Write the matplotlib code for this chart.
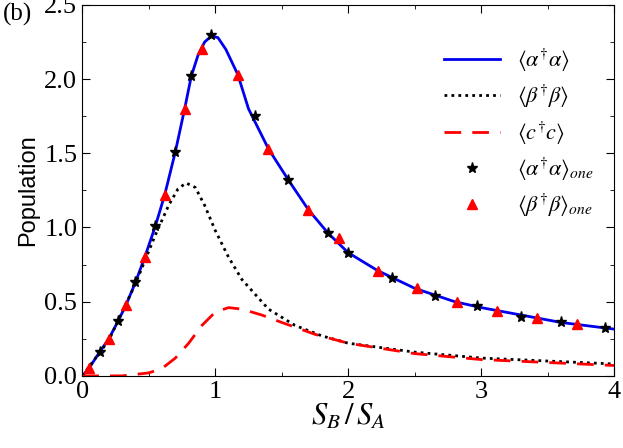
import numpy as np
import matplotlib
matplotlib.use("Agg")
import matplotlib.pyplot as plt
from matplotlib.ticker import MultipleLocator

x_a = [0, 0.05, 0.13, 0.2, 0.27, 0.33, 0.4, 0.47, 0.55, 0.62, 0.7, 0.77, 0.82, 0.87, 0.92, 0.97, 1.02, 1.08, 1.17, 1.25, 1.4, 1.55, 1.7, 1.85, 2.0, 2.22, 2.5, 2.8, 3.0, 3.3, 3.6, 4.0]
y_a = [0, 0.05, 0.16, 0.25, 0.37, 0.48, 0.63, 0.8, 1.01, 1.22, 1.51, 1.8, 2.02, 2.16, 2.25, 2.29, 2.28, 2.2, 2.03, 1.8, 1.53, 1.32, 1.12, 0.96, 0.83, 0.71, 0.59, 0.5, 0.46, 0.41, 0.36, 0.315]
x_b = [0, 0.2, 0.4, 0.55, 0.65, 0.72, 0.78, 0.85, 0.92, 1.0, 1.1, 1.2, 1.4, 1.6, 1.8, 2.0, 2.5, 3.0, 3.5, 4.0]
y_b = [0, 0.24, 0.62, 0.95, 1.15, 1.26, 1.3, 1.27, 1.15, 0.98, 0.8, 0.65, 0.45, 0.34, 0.27, 0.22, 0.16, 0.12, 0.1, 0.08]
x_c = [0, 0.3, 0.5, 0.6, 0.7, 0.8, 0.9, 1.0, 1.1, 1.2, 1.35, 1.5, 1.75, 2.0, 2.5, 3.0, 3.5, 4.0]
y_c = [0, 0.0, 0.02, 0.05, 0.12, 0.22, 0.34, 0.43, 0.46, 0.45, 0.41, 0.36, 0.28, 0.22, 0.15, 0.11, 0.09, 0.07]
x_star = [0.13, 0.27, 0.4, 0.55, 0.7, 0.82, 0.97, 1.3, 1.55, 1.85, 2.0, 2.33, 2.65, 2.97, 3.3, 3.6, 3.93]
y_star = [0.16, 0.37, 0.63, 1.01, 1.51, 2.02, 2.3, 1.75, 1.32, 0.96, 0.83, 0.66, 0.54, 0.47, 0.40, 0.36, 0.32]
x_tri = [0.05, 0.2, 0.33, 0.47, 0.62, 0.77, 0.9, 1.17, 1.4, 1.7, 1.93, 2.22, 2.52, 2.82, 3.12, 3.42, 3.72]
y_tri = [0.05, 0.25, 0.48, 0.8, 1.22, 1.8, 2.2, 2.03, 1.53, 1.12, 0.93, 0.71, 0.59, 0.50, 0.44, 0.39, 0.35]

plt.rcParams["font.family"] = "Liberation Serif"
plt.rcParams["mathtext.fontset"] = "stix"
fig = plt.figure(figsize=(6.23, 4.48), dpi=100)
ax = fig.add_axes([0.132, 0.161, 0.854, 0.828])
ax.plot(x_a, y_a, color="#0000ee", lw=2, label=r"$\langle\alpha^{\dagger}\alpha\rangle$")
ax.plot(x_b, y_b, color="black", lw=2, ls=(0, (1, 1.5)), label=r"$\langle\beta^{\dagger}\beta\rangle$")
ax.plot(x_c, y_c, color="red", lw=2, ls=(0, (6, 4)), label=r"$\langle c^{\dagger}c\rangle$")
ax.plot(x_star, y_star, ls="none", marker="*", color="black", ms=8, label=r"$\langle\alpha^{\dagger}\alpha\rangle_{one}$")
ax.plot(x_tri, y_tri, ls="none", marker="^", color="red", ms=7, label=r"$\langle\beta^{\dagger}\beta\rangle_{one}$")
ax.set_xlim(0, 4)
ax.set_ylim(0, 2.5)
ax.xaxis.set_major_locator(MultipleLocator(1))
ax.xaxis.set_minor_locator(MultipleLocator(0.5))
ax.yaxis.set_major_locator(MultipleLocator(0.5))
ax.yaxis.set_minor_locator(MultipleLocator(0.25))
ax.tick_params(which="both", direction="in", top=True, right=True, labelsize=19)
ax.tick_params(which="major", length=6)
ax.tick_params(which="minor", length=3)
ax.set_xlabel(r"$S_B\,/\,S_A$", fontsize=22, labelpad=0)
ax.set_ylabel("Population", fontsize=17, family="Liberation Sans")
ax.legend(loc="upper right", bbox_to_anchor=(1.0, 0.94), frameon=False, fontsize=16, handlelength=2.5, labelspacing=0.4)
fig.text(0.005, 0.955, "(b)", fontsize=18)
fig.savefig("out.png", dpi=100)
